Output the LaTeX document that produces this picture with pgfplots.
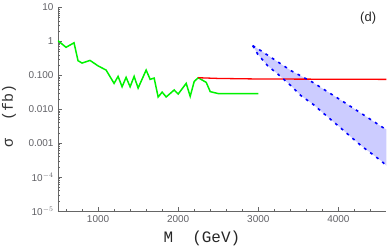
\documentclass[border=0pt]{standalone}
\usepackage{fontspec}
\setmainfont{Liberation Sans}
\newfontfamily\monof{Liberation Mono}
\usepackage{pgfplots}
\pgfplotsset{compat=1.18}
\definecolor{axgray}{rgb}{0.40,0.40,0.40}
\definecolor{tickgray}{rgb}{0.38,0.38,0.40}
\definecolor{mgreen}{rgb}{0.0,0.95,0.0}
\definecolor{bandfill}{rgb}{0.80,0.80,1.0}
\begin{document}
\begin{tikzpicture}
\begin{axis}[
  scale only axis,
  width=328.5bp, height=203.5bp,
  xmin=500, xmax=4600,
  ymin=1e-5, ymax=10,
  ymode=log,
  axis x line=bottom, axis y line=left,
  axis line style={-, draw=axgray, line width=0.6bp},
  tick style={draw=axgray, line width=0.5bp},
  tick align=inside,
  major tick length=4bp, minor tick length=2.2bp,
  xtick={1000,2000,3000,4000},
  xticklabels={1000,2000,3000,4000},
  minor xtick={600,800,1200,1400,1600,1800,2200,2400,2600,2800,3200,3400,3600,3800,4200,4400},
  ytick={1e-5,1e-4,0.001,0.01,0.1,1,10},
  yticklabels={10$^{-5}$,10$^{-4}$,0.001,0.010,0.100,1,10},
  minor ytick={2e-5,3e-5,4e-5,5e-5,6e-5,7e-5,8e-5,9e-5,
               2e-4,3e-4,4e-4,5e-4,6e-4,7e-4,8e-4,9e-4,
               0.002,0.003,0.004,0.005,0.006,0.007,0.008,0.009,
               0.02,0.03,0.04,0.05,0.06,0.07,0.08,0.09,
               0.2,0.3,0.4,0.5,0.6,0.7,0.8,0.9,
               2,3,4,5,6,7,8,9},
  ticklabel style={font=\fontsize{10}{10}\selectfont, text=tickgray},
  xticklabel style={yshift=-1bp},
  yticklabel style={xshift=-1bp},
  xlabel={M\ \ (GeV)},
  xlabel style={font=\monof\fontsize{16}{16}\selectfont, text=black!85, at={(axis description cs:0.438,-0.133)}, anchor=center},
  ylabel={σ\ \ (fb)},
  ylabel style={font=\monof\fontsize{15}{15}\selectfont, text=black!80, at={(axis description cs:-0.149,0.467)}, anchor=center},
  clip=true,
]
% band fill
\addplot[draw=none, fill=bandfill] coordinates {
  (2930,0.75)(3034,0.53)(3409,0.137)(3680,0.062)(4075,0.0159)(4555,0.0029)(4650,0.0022)
  (4650,1.66e-4)(4600,2.15e-4)(4534,3.0e-4)(4284,8.4e-4)(3993,0.0033)(3680,0.0142)(3534,0.025)(3409,0.049)(3243,0.109)(3118,0.19)(2993,0.42)(2930,0.75)
} -- cycle;
% green
\addplot[mgreen, line width=1.5bp] coordinates {
  (500,1.05)(600,0.67)(700,0.91)(750,0.27)(800,0.23)(900,0.275)(1000,0.19)(1100,0.143)
  (1200,0.058)(1250,0.093)(1300,0.046)(1350,0.087)(1400,0.046)(1450,0.093)(1500,0.042)
  (1600,0.143)(1650,0.076)(1700,0.083)(1750,0.023)(1800,0.032)(1850,0.023)(1950,0.037)
  (2000,0.028)(2100,0.058)(2150,0.024)(2200,0.066)(2250,0.085)(2350,0.062)(2400,0.033)
  (2500,0.029)(3000,0.029)
};
% red
\addplot[red, line width=1.3bp] coordinates {
  (2250,0.085)(2500,0.081)(3000,0.078)(4600,0.076)
};
% blue dashed edges
\addplot[blue, line width=1.6bp, dash pattern=on 2.8bp off 4.8bp] coordinates {
  (2930,0.75)(3034,0.53)(3409,0.137)(3680,0.062)(4075,0.0159)(4555,0.0029)(4650,0.0022)
};
\addplot[blue, line width=1.6bp, dash pattern=on 2.8bp off 4.8bp] coordinates {
  (2930,0.75)(2993,0.42)(3118,0.19)(3243,0.109)(3409,0.049)(3534,0.025)(3680,0.0142)(3993,0.0033)(4284,8.4e-4)(4534,3.0e-4)(4650,1.66e-4)
};
\node[font=\fontsize{13}{13}\selectfont, text=black!85] at (axis cs:4371,4.8) {(d)};
\coordinate (sw) at (rel axis cs:0,0);
\coordinate (ne) at (rel axis cs:1,1);
\end{axis}
\pgfresetboundingbox
\path[use as bounding box] (sw) ++(-58bp,-40bp) rectangle ([shift={(0.5bp,7.5bp)}]ne);
\end{tikzpicture}
\end{document}
